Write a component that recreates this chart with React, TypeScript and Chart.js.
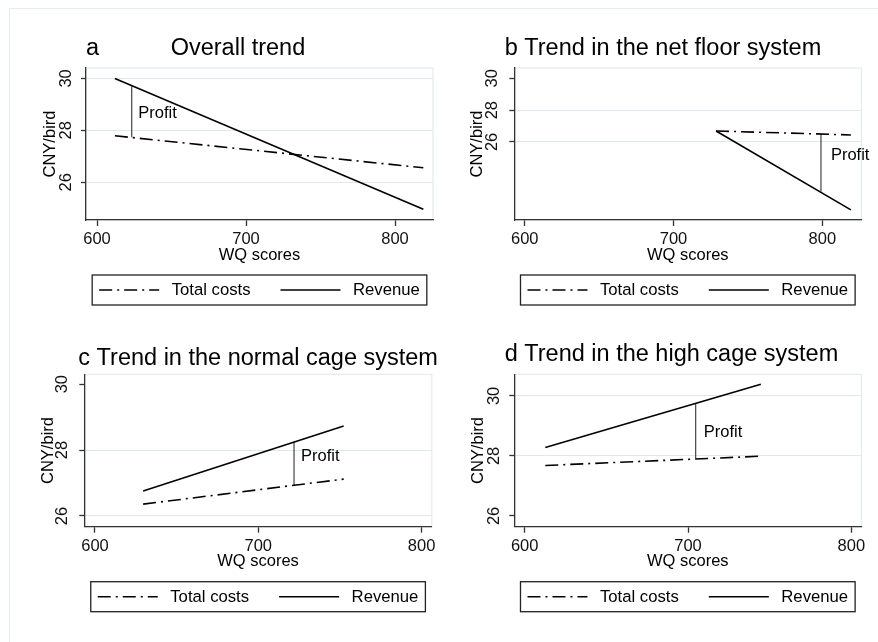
import React, { useEffect, useRef } from 'react';
import { Chart, registerables } from 'chart.js';

Chart.register(...registerables);

const FONT = '"Liberation Sans", Arial, Helvetica, sans-serif';

// ---- shared axis ticks and series names ----
const xTickValues = [600, 700, 800];
const yTickValues = [26, 28, 30];
const seriesLabels = ['Total costs', 'Revenue'];
const profitText = 'Profit';
const xAxisTitle = 'WQ scores';
const yAxisTitle = 'CNY/bird';

// ---- panel a: Overall trend ----
const wqA = [612, 819];
const costsA = [27.79, 26.56];
const revenueA = [30.0, 24.96];
const profitXA = [623.3, 623.3];
const profitYA = [29.7, 27.73];
const profitLabelA = [627.7, 28.46];
const xRangeA = [592.6, 825.5];
const yRangeA = [24.55, 30.4];
const gridA = [26, 28, 30];

// ---- panel b: net floor system ----
const wqB = [728.6, 819.2];
const costsB = [26.69, 26.44];
const revenueB = [26.69, 21.73];
const profitXB = [799.1, 799.1];
const profitYB = [26.48, 22.88];
const profitLabelB = [805.8, 24.875];
const xRangeB = [593.0, 826.2];
const yRangeB = [21.09, 30.65];
const gridB = [26, 28];

// ---- panel c: normal cage system ----
const wqC = [629.5, 752.3];
const costsC = [26.36, 27.12];
const revenueC = [26.76, 28.73];
const profitXC = [721.9, 721.9];
const profitYC = [28.23, 26.94];
const profitLabelC = [726.2, 27.67];
const xRangeC = [593.47, 806.3];
const yRangeC = [25.675, 30.3];
const gridC = [26, 28];

// ---- panel d: high cage system ----
const wqD = [612.6, 744.6];
const costsD = [27.68, 27.99];
const revenueD = [28.28, 30.39];
const profitXD = [704.7, 704.7];
const profitYD = [29.74, 27.91];
const profitLabelD = [709.6, 28.64];
const xRangeD = [593.63, 806.1];
const yRangeD = [25.64, 30.72];
const gridD = [28, 30];

const zip = (xs: number[], ys: number[]) => xs.map((x, i) => ({ x, y: ys[i] }));

const CANVAS_W = 439;
const CANVAS_H = 321;
const Y_AXIS_W = 50;
const X_AXIS_H = 50;
const GRID_COLOR = '#dde9ec';
const AXIS_COLOR = '#333333';

type PanelCfg = {
  left: number;
  top: number;
  area: { l: number; r: number; t: number; b: number };
  titles: { text: string; x: number; y: number }[];
  wq: number[];
  costs: number[];
  revenue: number[];
  profitX: number[];
  profitY: number[];
  profitLabel: number[];
  xRange: number[];
  yRange: number[];
  grid: number[];
  yTickPad: number;
  yTitlePad: number;
};

const panels: PanelCfg[] = [
  {
    left: 0, top: 0,
    area: { l: 86, r: 433, t: 68, b: 220 },
    titles: [{ text: 'a', x: 86, y: 55 }, { text: 'Overall trend', x: 170.7, y: 55 }],
    wq: wqA, costs: costsA, revenue: revenueA, profitX: profitXA, profitY: profitYA,
    profitLabel: profitLabelA, xRange: xRangeA, yRange: yRangeA, grid: gridA,
    yTickPad: 5.8, yTitlePad: 4.6,
  },
  {
    left: 439, top: 0,
    area: { l: 75.3, r: 422.3, t: 68, b: 220 },
    titles: [{ text: 'b Trend in the net floor system', x: 65.7, y: 55 }],
    wq: wqB, costs: costsB, revenue: revenueB, profitX: profitXB, profitY: profitYB,
    profitLabel: profitLabelB, xRange: xRangeB, yRange: yRangeB, grid: gridB,
    yTickPad: 8, yTitlePad: 3.4,
  },
  {
    left: 0, top: 321,
    area: { l: 84.3, r: 433.3, t: 53.3, b: 205.7 },
    titles: [{ text: 'c Trend in the normal cage system', x: 78.3, y: 44.3 }],
    wq: wqC, costs: costsC, revenue: revenueC, profitX: profitXC, profitY: profitYC,
    profitLabel: profitLabelC, xRange: xRangeC, yRange: yRangeC, grid: gridC,
    yTickPad: 7.3, yTitlePad: 4.6,
  },
  {
    left: 439, top: 321,
    area: { l: 75.3, r: 422.3, t: 53.3, b: 205.7 },
    titles: [{ text: 'd Trend in the high cage system', x: 65.7, y: 40 }],
    wq: wqD, costs: costsD, revenue: revenueD, profitX: profitXD, profitY: profitYD,
    profitLabel: profitLabelD, xRange: xRangeD, yRange: yRangeD, grid: gridD,
    yTickPad: 5.8, yTitlePad: 4.6,
  },
];

function Panel({ cfg }: { cfg: PanelCfg }) {
  const ref = useRef<HTMLCanvasElement>(null);

  useEffect(() => {
    const canvas = ref.current;
    if (!canvas) return;

    const decor = {
      id: 'decor',
      beforeDraw(chart: any) {
        const { ctx, chartArea: ca } = chart;
        ctx.save();
        ctx.strokeStyle = GRID_COLOR;
        ctx.lineWidth = 1;
        ctx.strokeRect(ca.left, ca.top, ca.right - ca.left, ca.bottom - ca.top);
        ctx.restore();
      },
      afterDraw(chart: any) {
        const { ctx, chartArea: ca, scales } = chart;
        ctx.save();
        // titles
        ctx.fillStyle = '#000';
        ctx.textBaseline = 'alphabetic';
        ctx.textAlign = 'left';
        ctx.font = `23.5px ${FONT}`;
        cfg.titles.forEach((t) => ctx.fillText(t.text, t.x, t.y));
        // profit label
        ctx.font = `16.5px ${FONT}`;
        ctx.fillText(
          profitText,
          scales.x.getPixelForValue(cfg.profitLabel[0]),
          scales.y.getPixelForValue(cfg.profitLabel[1])
        );
        // boxed legend
        ctx.font = `16.7px ${FONT}`;
        const items = chart.data.datasets.slice(0, seriesLabels.length);
        const lineLen = 60;
        const textGap = 12.5;
        const itemGap = 30;
        const widths = items.map((d: any) => ctx.measureText(d.label).width);
        const content =
          widths.reduce((s: number, w: number) => s + lineLen + textGap + w, 0) +
          itemGap * (items.length - 1);
        const boxW = content + 14;
        const boxH = 30;
        const boxX = (ca.left + ca.right) / 2 - boxW / 2;
        const boxY = ca.bottom + 55;
        ctx.strokeStyle = '#222';
        ctx.lineWidth = 1.3;
        ctx.setLineDash([]);
        ctx.strokeRect(boxX, boxY, boxW, boxH);
        const midY = boxY + boxH / 2;
        let x = boxX + 7;
        ctx.textBaseline = 'middle';
        items.forEach((d: any, i: number) => {
          ctx.save();
          ctx.strokeStyle = d.borderColor;
          ctx.lineWidth = d.borderWidth;
          ctx.setLineDash(d.borderDash || []);
          ctx.beginPath();
          ctx.moveTo(x, midY);
          ctx.lineTo(x + lineLen, midY);
          ctx.stroke();
          ctx.restore();
          ctx.fillStyle = '#000';
          ctx.fillText(d.label, x + lineLen + textGap, midY + 0.5);
          x += lineLen + textGap + widths[i] + itemGap;
        });
        ctx.restore();
      },
    };

    const tickFont = { family: FONT, size: 16.5 };

    const chart = new Chart(canvas, {
      type: 'scatter',
      data: {
        datasets: [
          {
            label: seriesLabels[0],
            data: zip(cfg.wq, cfg.costs),
            borderColor: '#000',
            borderWidth: 1.6,
            borderDash: [13, 5, 2, 5],
            showLine: true,
            pointRadius: 0,
            fill: false,
          },
          {
            label: seriesLabels[1],
            data: zip(cfg.wq, cfg.revenue),
            borderColor: '#000',
            borderWidth: 1.6,
            showLine: true,
            pointRadius: 0,
            fill: false,
          },
          {
            label: profitText,
            data: zip(cfg.profitX, cfg.profitY),
            borderColor: '#333',
            borderWidth: 1.1,
            showLine: true,
            pointRadius: 0,
            fill: false,
          },
        ],
      },
      options: {
        animation: false,
        responsive: false,
        maintainAspectRatio: false,
        events: [],
        layout: {
          padding: {
            left: cfg.area.l - Y_AXIS_W,
            right: CANVAS_W - cfg.area.r,
            top: cfg.area.t,
            bottom: CANVAS_H - cfg.area.b - X_AXIS_H,
          },
        },
        plugins: {
          legend: { display: false },
          tooltip: { enabled: false },
          title: { display: false },
        },
        scales: {
          x: {
            type: 'linear',
            min: cfg.xRange[0],
            max: cfg.xRange[1],
            afterBuildTicks: (s: any) => {
              s.ticks = xTickValues.map((v) => ({ value: v }));
            },
            afterFit: (s: any) => {
              s.height = X_AXIS_H;
            },
            ticks: {
              callback: (v: any) => String(v),
              font: tickFont,
              color: '#111',
              padding: 3.5,
              maxRotation: 0,
              minRotation: 0,
              autoSkip: false,
            },
            grid: {
              display: true,
              drawOnChartArea: false,
              drawTicks: true,
              tickLength: 6,
              tickColor: AXIS_COLOR,
              tickWidth: 1.3,
            },
            border: { display: true, color: AXIS_COLOR, width: 1.3 },
            title: {
              display: true,
              text: xAxisTitle,
              font: { family: FONT, size: 16.5 },
              color: '#000',
              padding: { top: 0, bottom: 5.1 },
            },
          },
          y: {
            type: 'linear',
            min: cfg.yRange[0],
            max: cfg.yRange[1],
            afterBuildTicks: (s: any) => {
              s.ticks = yTickValues.map((v) => ({ value: v }));
            },
            afterFit: (s: any) => {
              s.width = Y_AXIS_W;
            },
            ticks: {
              callback: (v: any) => String(v),
              font: tickFont,
              color: '#111',
              padding: cfg.yTickPad,
              minRotation: 90,
              maxRotation: 90,
              crossAlign: 'center',
              autoSkip: false,
            },
            grid: {
              display: true,
              drawOnChartArea: true,
              drawTicks: true,
              tickLength: 5,
              lineWidth: 1,
              color: (c: any) =>
                c.tick && cfg.grid.includes(c.tick.value) ? GRID_COLOR : 'rgba(0,0,0,0)',
              tickColor: AXIS_COLOR,
              tickWidth: 1.3,
            },
            border: { display: true, color: AXIS_COLOR, width: 1.3 },
            title: {
              display: true,
              text: yAxisTitle,
              font: { family: FONT, size: 16.5 },
              color: '#000',
              padding: { top: cfg.yTitlePad, bottom: 0 },
            },
          },
        },
      } as any,
      plugins: [decor],
    });

    return () => chart.destroy();
  }, [cfg]);

  return (
    <canvas
      ref={ref}
      width={CANVAS_W}
      height={CANVAS_H}
      style={{
        position: 'absolute',
        left: cfg.left,
        top: cfg.top,
        width: CANVAS_W,
        height: CANVAS_H,
        display: 'block',
      }}
    />
  );
}

export default function App() {
  return (
    <div
      style={{
        position: 'fixed',
        left: 0,
        top: 0,
        width: 878,
        height: 642,
        background: '#ffffff',
        overflow: 'hidden',
      }}
    >
      <div
        style={{
          position: 'absolute',
          left: 9,
          top: 8,
          width: 2000,
          height: 2000,
          borderTop: '1px solid #e3ecee',
          borderLeft: '1px solid #e3ecee',
        }}
      />
      {panels.map((p, i) => (
        <Panel key={i} cfg={p} />
      ))}
    </div>
  );
}
